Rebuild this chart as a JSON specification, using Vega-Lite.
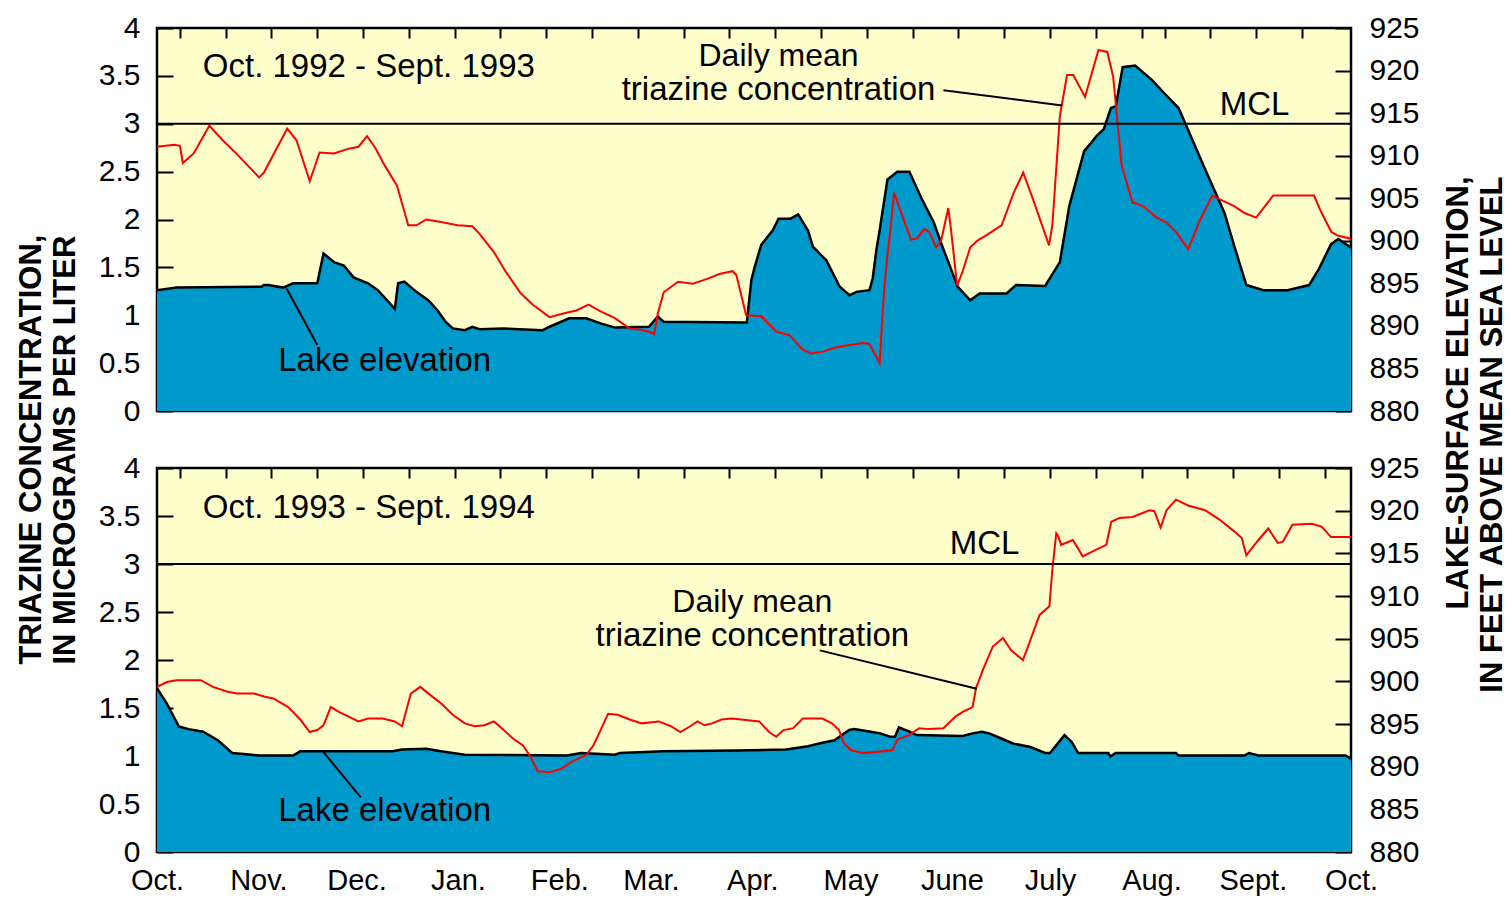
{
  "$schema": "https://vega.github.io/schema/vega-lite/v6.json",
  "bounds": "flush",
  "spacing": 57,
  "padding": {"left": 13, "top": 11, "right": 0, "bottom": 0},
  "background": "white",
  "config": {
    "view": {"fill": "#ffffcc", "stroke": "black", "strokeWidth": 2.5},
    "font": "Liberation Sans",
    "axis": {"labelFont": "Liberation Sans", "labelColor": "black", "tickColor": "black", "domain": false, "grid": false, "labelFlush": false, "labelOverlap": false, "labelBound": false, "titleColor": "black", "titleFont": "Liberation Sans", "zindex": 1}
  },
  "datasets": {
    "c1": [
      {"day":0,"conc":2.76},{"day":5.3,"conc":2.78},{"day":7,"conc":2.77},{"day":7.9,"conc":2.59},{"day":11.2,"conc":2.69},{"day":16,"conc":2.98},{"day":20,"conc":2.83},{"day":24.5,"conc":2.68},{"day":31.2,"conc":2.44},{"day":32.7,"conc":2.49},{"day":39.8,"conc":2.95},{"day":42.6,"conc":2.83},{"day":46.7,"conc":2.40},{"day":49.7,"conc":2.70},{"day":54.1,"conc":2.69},{"day":58.6,"conc":2.74},{"day":61.6,"conc":2.76},{"day":64.2,"conc":2.87},{"day":66.7,"conc":2.75},{"day":69.7,"conc":2.56},{"day":73.4,"conc":2.35},{"day":76.8,"conc":1.94},{"day":79.3,"conc":1.94},{"day":82.3,"conc":2.0},{"day":86,"conc":1.98},{"day":91.9,"conc":1.94},{"day":96.4,"conc":1.93},{"day":98.6,"conc":1.85},{"day":103,"conc":1.66},{"day":106.7,"conc":1.45},{"day":111.2,"conc":1.23},{"day":114.9,"conc":1.11},{"day":120,"conc":0.98},{"day":124.5,"conc":1.02},{"day":128.2,"conc":1.05},{"day":131.9,"conc":1.11},{"day":135.6,"conc":1.04},{"day":140,"conc":0.97},{"day":144.5,"conc":0.86},{"day":147.5,"conc":0.85},{"day":151.2,"conc":0.82},{"day":152,"conc":0.80},{"day":153.1,"conc":1.02},{"day":154.9,"conc":1.24},{"day":159.3,"conc":1.35},{"day":163.8,"conc":1.33},{"day":168.2,"conc":1.38},{"day":171.9,"conc":1.43},{"day":176,"conc":1.46},{"day":177.1,"conc":1.42},{"day":180.1,"conc":1.0},{"day":184.7,"conc":0.99},{"day":189.3,"conc":0.83},{"day":193.4,"conc":0.79},{"day":197.4,"conc":0.64},{"day":200,"conc":0.60},{"day":203.6,"conc":0.62},{"day":207.1,"conc":0.66},{"day":211.7,"conc":0.69},{"day":215.8,"conc":0.71},{"day":217.8,"conc":0.70},{"day":220.9,"conc":0.50},{"day":221.7,"conc":0.95},{"day":222.4,"conc":1.31},{"day":223.4,"conc":1.66},{"day":224.2,"conc":1.89},{"day":225.3,"conc":2.28},{"day":227.8,"conc":2.04},{"day":230.5,"conc":1.79},{"day":232.3,"conc":1.80},{"day":234.5,"conc":1.90},{"day":236,"conc":1.87},{"day":238.2,"conc":1.71},{"day":239.7,"conc":1.78},{"day":241.9,"conc":2.12},{"day":242.7,"conc":1.90},{"day":244.6,"conc":1.31},{"day":246.4,"conc":1.47},{"day":248.6,"conc":1.71},{"day":250.8,"conc":1.78},{"day":253.7,"conc":1.84},{"day":258.2,"conc":1.94},{"day":261.9,"conc":2.28},{"day":264.8,"conc":2.49},{"day":267.8,"conc":2.21},{"day":272.7,"conc":1.73},{"day":273.7,"conc":1.94},{"day":276,"conc":3.08},{"day":278.2,"conc":3.51},{"day":280.1,"conc":3.51},{"day":283.7,"conc":3.28},{"day":287.8,"conc":3.77},{"day":290.5,"conc":3.75},{"day":292.3,"conc":3.49},{"day":294.9,"conc":2.56},{"day":298.2,"conc":2.18},{"day":301.4,"conc":2.14},{"day":305.6,"conc":2.02},{"day":308.5,"conc":1.97},{"day":311.5,"conc":1.87},{"day":315.2,"conc":1.69},{"day":318.9,"conc":2.0},{"day":322.6,"conc":2.25},{"day":324.9,"conc":2.21},{"day":329.3,"conc":2.14},{"day":332.3,"conc":2.07},{"day":336,"conc":2.02},{"day":341.2,"conc":2.25},{"day":347.1,"conc":2.25},{"day":353.7,"conc":2.25},{"day":356,"conc":2.07},{"day":359,"conc":1.87},{"day":361.1,"conc":1.83},{"day":365,"conc":1.80}
    ],
    "e1": [
      {"day":0,"elev":894.2},{"day":6,"elev":894.5},{"day":31.9,"elev":894.6},{"day":32.7,"elev":894.8},{"day":34,"elev":894.8},{"day":38.6,"elev":894.5},{"day":41.6,"elev":895.0},{"day":49,"elev":895.0},{"day":50.9,"elev":898.5},{"day":54.1,"elev":897.5},{"day":57.1,"elev":897.1},{"day":60.1,"elev":895.7},{"day":64.5,"elev":895.0},{"day":67.5,"elev":894.2},{"day":72.7,"elev":892.0},{"day":73.7,"elev":895.0},{"day":75.6,"elev":895.2},{"day":79.3,"elev":894.0},{"day":83,"elev":893.0},{"day":86,"elev":891.7},{"day":88.2,"elev":890.5},{"day":90.4,"elev":889.7},{"day":94.1,"elev":889.5},{"day":96.4,"elev":889.9},{"day":98.6,"elev":889.6},{"day":106,"elev":889.7},{"day":117.9,"elev":889.5},{"day":120,"elev":889.9},{"day":126,"elev":890.9},{"day":131.2,"elev":890.9},{"day":135.6,"elev":890.3},{"day":140,"elev":889.8},{"day":150.4,"elev":889.9},{"day":153.1,"elev":891.1},{"day":154.9,"elev":890.5},{"day":180.3,"elev":890.4},{"day":181.7,"elev":895.4},{"day":182.7,"elev":896.9},{"day":184.7,"elev":899.5},{"day":186.3,"elev":900.3},{"day":188.2,"elev":901.2},{"day":190,"elev":902.6},{"day":193.7,"elev":902.6},{"day":196,"elev":903.1},{"day":199,"elev":901.2},{"day":200.5,"elev":899.3},{"day":204.6,"elev":897.7},{"day":208.7,"elev":894.6},{"day":211.7,"elev":893.6},{"day":213.8,"elev":894.0},{"day":217.8,"elev":894.2},{"day":218.8,"elev":895.6},{"day":219.9,"elev":898.9},{"day":220.9,"elev":901.2},{"day":223.3,"elev":907.2},{"day":226.3,"elev":908.1},{"day":230,"elev":908.1},{"day":233.8,"elev":904.9},{"day":237.4,"elev":902.2},{"day":240.4,"elev":899.0},{"day":244.8,"elev":894.6},{"day":248.6,"elev":893.0},{"day":251.5,"elev":893.8},{"day":259.7,"elev":893.8},{"day":262.6,"elev":894.8},{"day":271.5,"elev":894.7},{"day":276,"elev":897.5},{"day":278.9,"elev":904.1},{"day":283.4,"elev":910.5},{"day":287.2,"elev":912.3},{"day":289.4,"elev":913.1},{"day":291.6,"elev":915.6},{"day":293.1,"elev":915.8},{"day":295.2,"elev":920.4},{"day":299,"elev":920.6},{"day":304.1,"elev":918.9},{"day":308.5,"elev":917.1},{"day":312.3,"elev":915.6},{"day":316,"elev":912.3},{"day":320.4,"elev":908.4},{"day":326.3,"elev":903.3},{"day":329.3,"elev":899.4},{"day":333,"elev":894.8},{"day":338.2,"elev":894.2},{"day":345.6,"elev":894.2},{"day":352.2,"elev":894.8},{"day":355.2,"elev":896.7},{"day":358.9,"elev":899.6},{"day":361.1,"elev":900.2},{"day":365,"elev":899.2}
    ],
    "c2": [
      {"day":0,"conc":1.72},{"day":3,"conc":1.77},{"day":6,"conc":1.79},{"day":13.4,"conc":1.79},{"day":17.1,"conc":1.72},{"day":21.6,"conc":1.67},{"day":24.5,"conc":1.65},{"day":29.7,"conc":1.65},{"day":32.7,"conc":1.62},{"day":35.6,"conc":1.60},{"day":40.1,"conc":1.51},{"day":43.8,"conc":1.38},{"day":46.7,"conc":1.25},{"day":49,"conc":1.27},{"day":50.9,"conc":1.32},{"day":53.1,"conc":1.51},{"day":55.6,"conc":1.46},{"day":58.6,"conc":1.41},{"day":61.6,"conc":1.36},{"day":64.5,"conc":1.39},{"day":69,"conc":1.39},{"day":72.7,"conc":1.36},{"day":74.9,"conc":1.31},{"day":77.6,"conc":1.65},{"day":80.5,"conc":1.72},{"day":83,"conc":1.65},{"day":86.8,"conc":1.55},{"day":90.4,"conc":1.43},{"day":94.1,"conc":1.34},{"day":97.1,"conc":1.31},{"day":100.1,"conc":1.32},{"day":103,"conc":1.36},{"day":106,"conc":1.27},{"day":108.9,"conc":1.18},{"day":111.9,"conc":1.11},{"day":114.2,"conc":0.99},{"day":116.4,"conc":0.84},{"day":120.1,"conc":0.83},{"day":123.8,"conc":0.87},{"day":126.7,"conc":0.94},{"day":131.2,"conc":1.01},{"day":133.4,"conc":1.11},{"day":135.6,"conc":1.27},{"day":137.9,"conc":1.44},{"day":140.8,"conc":1.43},{"day":144.5,"conc":1.38},{"day":148.2,"conc":1.34},{"day":153.4,"conc":1.36},{"day":157.1,"conc":1.31},{"day":160,"conc":1.25},{"day":163,"conc":1.31},{"day":165.2,"conc":1.36},{"day":167.4,"conc":1.32},{"day":169.7,"conc":1.34},{"day":172.6,"conc":1.38},{"day":175.6,"conc":1.39},{"day":178.6,"conc":1.38},{"day":184.1,"conc":1.36},{"day":187.1,"conc":1.25},{"day":189.3,"conc":1.20},{"day":191.5,"conc":1.27},{"day":194.5,"conc":1.29},{"day":197.4,"conc":1.39},{"day":203.4,"conc":1.39},{"day":206.3,"conc":1.34},{"day":208.5,"conc":1.27},{"day":210,"conc":1.13},{"day":212.2,"conc":1.06},{"day":216,"conc":1.03},{"day":224.8,"conc":1.06},{"day":226.3,"conc":1.17},{"day":230,"conc":1.22},{"day":233,"conc":1.29},{"day":235.9,"conc":1.28},{"day":240.4,"conc":1.29},{"day":244.1,"conc":1.41},{"day":246.3,"conc":1.46},{"day":249.3,"conc":1.51},{"day":250.4,"conc":1.71},{"day":252.5,"conc":1.90},{"day":255.5,"conc":2.14},{"day":258.6,"conc":2.23},{"day":261.1,"conc":2.10},{"day":264.7,"conc":2.0},{"day":267,"conc":2.21},{"day":269.8,"conc":2.47},{"day":272.8,"conc":2.56},{"day":273.7,"conc":2.94},{"day":274.9,"conc":3.32},{"day":275.4,"conc":3.30},{"day":276.4,"conc":3.20},{"day":280,"conc":3.25},{"day":283,"conc":3.08},{"day":287.1,"conc":3.15},{"day":290.2,"conc":3.20},{"day":291.7,"conc":3.44},{"day":294.2,"conc":3.48},{"day":298.2,"conc":3.49},{"day":303.4,"conc":3.56},{"day":304.9,"conc":3.55},{"day":306.8,"conc":3.38},{"day":308.6,"conc":3.56},{"day":311.5,"conc":3.67},{"day":315.2,"conc":3.61},{"day":320.4,"conc":3.56},{"day":324.9,"conc":3.46},{"day":329.3,"conc":3.34},{"day":331.6,"conc":3.27},{"day":333,"conc":3.09},{"day":336.7,"conc":3.25},{"day":339.7,"conc":3.37},{"day":342.6,"conc":3.22},{"day":344.1,"conc":3.23},{"day":347.1,"conc":3.41},{"day":353,"conc":3.42},{"day":356,"conc":3.39},{"day":358.9,"conc":3.28},{"day":365,"conc":3.28}
    ],
    "e2": [
      {"day":0,"elev":899.2},{"day":3,"elev":897.4},{"day":6.7,"elev":894.7},{"day":9.7,"elev":894.4},{"day":14.1,"elev":894.1},{"day":18.6,"elev":893.1},{"day":23,"elev":891.6},{"day":29,"elev":891.4},{"day":31.2,"elev":891.3},{"day":41.6,"elev":891.3},{"day":43.8,"elev":891.8},{"day":72,"elev":891.8},{"day":74.9,"elev":892.0},{"day":82.3,"elev":892.1},{"day":86.8,"elev":891.8},{"day":94.1,"elev":891.4},{"day":125.3,"elev":891.3},{"day":129.7,"elev":891.6},{"day":140,"elev":891.4},{"day":141.5,"elev":891.6},{"day":154.9,"elev":891.8},{"day":177.1,"elev":891.9},{"day":192.3,"elev":892.0},{"day":199,"elev":892.4},{"day":203.4,"elev":892.8},{"day":207.1,"elev":893.1},{"day":211.6,"elev":894.3},{"day":213.1,"elev":894.4},{"day":218.2,"elev":894.1},{"day":221.1,"elev":893.9},{"day":224.1,"elev":893.5},{"day":225.6,"elev":893.5},{"day":226.8,"elev":894.6},{"day":230,"elev":894.1},{"day":232.3,"elev":893.7},{"day":246.3,"elev":893.6},{"day":249.3,"elev":893.9},{"day":252.2,"elev":894.1},{"day":254.4,"elev":893.9},{"day":258.1,"elev":893.3},{"day":261.8,"elev":892.7},{"day":267,"elev":892.3},{"day":271.5,"elev":891.6},{"day":273,"elev":891.6},{"day":277.4,"elev":893.7},{"day":279.6,"elev":892.9},{"day":281.6,"elev":891.6},{"day":290.8,"elev":891.6},{"day":291.5,"elev":891.2},{"day":293,"elev":891.6},{"day":311.5,"elev":891.6},{"day":312.3,"elev":891.3},{"day":332.4,"elev":891.3},{"day":333.8,"elev":891.6},{"day":336.7,"elev":891.3},{"day":363.4,"elev":891.3},{"day":365,"elev":890.9}
    ]
  },
  "vconcat": [
    {
      "width": 1194,
      "height": 383,
      "resolve": {"scale": {"y": "independent"}, "axis": {"x": "independent", "y": "independent"}},
      "layer": [
        {
          "data": {"name": "e1"},
          "encoding": {
            "x": {"field": "day", "type": "quantitative", "scale": {"domain": [0, 365], "nice": false, "zero": false},
              "axis": {"orient": "bottom", "values": [7,14,21,28,35,42,49,56,63,70,77,84,91,98,105,112,119,126,133,140,147,154,161,168,175,182,189,196,203,210,217,224,231,238,245,252,259,266,273,280,287,294,301,308,315,322,329,336,343,350,357], "labels": false, "tickSize": -10, "tickWidth": 2, "title": null}},
            "y": {"field": "elev", "type": "quantitative", "scale": {"domain": [880, 925], "nice": false, "zero": false},
              "axis": {"orient": "right", "values": [880,885,890,895,900,905,910,915,920,925], "format": "d", "tickSize": -16, "tickWidth": 2, "labelFontSize": 30, "labelPadding": 34, "labelBaseline": "middle",
                "title": ["LAKE-SURFACE ELEVATION,", "IN FEET ABOVE MEAN SEA LEVEL"], "titleAngle": 270, "titleAlign": "right", "titleBaseline": "top", "titleX": 92, "titleY": 148, "titleFontSize": 31, "titleFontWeight": "bold", "titleLineHeight": 34}}
          },
          "layer": [
            {"mark": {"type": "area", "color": "#0099cc", "opacity": 1, "clip": true}},
            {"mark": {"type": "line", "color": "black", "strokeWidth": 2.5, "clip": true}}
          ]
        },
        {
          "layer": [
            {
              "data": {"name": "c1"},
              "mark": {"type": "line", "color": "#ff0000", "strokeWidth": 2, "clip": true},
              "encoding": {
                "x": {"field": "day", "type": "quantitative", "scale": {"domain": [0, 365], "nice": false, "zero": false},
                  "axis": {"orient": "top", "values": [7,14,21,28,35,42,49,56,63,70,77,84,91,98,105,112,119,126,133,140,147,154,161,168,175,182,189,196,203,210,217,224,231,238,245,252,259,266,273,280,287,294,301,304,308,315,322,329,336,343,350,357], "labels": false, "tickSize": -10, "tickWidth": 2, "title": null}},
                "y": {"field": "conc", "type": "quantitative", "scale": {"domain": [0, 4], "nice": false, "zero": false},
                  "axis": {"orient": "left", "values": [0,0.5,1,1.5,2,2.5,3,3.5,4], "format": "~g", "tickSize": -16, "tickWidth": 2, "labelFontSize": 30, "labelPadding": 33, "labelBaseline": "middle",
                    "title": ["TRIAZINE CONCENTRATION,", "IN MICROGRAMS PER LITER"], "titleAngle": 270, "titleAlign": "left", "titleBaseline": "top", "titleX": -141, "titleY": 636, "titleFontSize": 31, "titleFontWeight": "bold", "titleLineHeight": 34}}
              }
            },
            {
              "data": {"values": [{}]},
              "mark": {"type": "rule", "color": "black", "strokeWidth": 2},
              "encoding": {"y": {"datum": 3, "type": "quantitative"}}
            },
            {
              "data": {"values": [{}]},
              "mark": {"type": "text", "align": "left", "baseline": "middle", "fontSize": 33, "color": "black"},
              "encoding": {"x": {"datum": 14, "type": "quantitative"}, "y": {"datum": 3.59, "type": "quantitative"}, "text": {"value": "Oct. 1992 - Sept. 1993"}}
            },
            {
              "data": {"values": [{}]},
              "mark": {"type": "text", "align": "center", "baseline": "middle", "fontSize": 32, "color": "black"},
              "encoding": {"x": {"datum": 190, "type": "quantitative"}, "y": {"datum": 3.71, "type": "quantitative"}, "text": {"value": "Daily mean"}}
            },
            {
              "data": {"values": [{}]},
              "mark": {"type": "text", "align": "center", "baseline": "middle", "fontSize": 33, "color": "black"},
              "encoding": {"x": {"datum": 190, "type": "quantitative"}, "y": {"datum": 3.35, "type": "quantitative"}, "text": {"value": "triazine concentration"}}
            },
            {
              "data": {"values": [{}]},
              "mark": {"type": "text", "align": "center", "baseline": "middle", "fontSize": 33, "color": "black"},
              "encoding": {"x": {"datum": 335.5, "type": "quantitative"}, "y": {"datum": 3.20, "type": "quantitative"}, "text": {"value": "MCL"}}
            },
            {
              "data": {"values": [{}]},
              "mark": {"type": "text", "align": "center", "baseline": "middle", "fontSize": 33, "color": "black"},
              "encoding": {"x": {"datum": 69.6, "type": "quantitative"}, "y": {"datum": 0.52, "type": "quantitative"}, "text": {"value": "Lake elevation"}}
            },
            {
              "data": {"values": [{}]},
              "mark": {"type": "rule", "color": "black", "strokeWidth": 2},
              "encoding": {"x": {"datum": 240.4, "type": "quantitative"}, "y": {"datum": 3.35, "type": "quantitative"}, "x2": {"datum": 276.7}, "y2": {"datum": 3.19}}
            },
            {
              "data": {"values": [{}]},
              "mark": {"type": "rule", "color": "black", "strokeWidth": 2},
              "encoding": {"x": {"datum": 39.6, "type": "quantitative"}, "y": {"datum": 1.28, "type": "quantitative"}, "x2": {"datum": 49}, "y2": {"datum": 0.69}}
            }
          ]
        }
      ]
    },
    {
      "width": 1194,
      "height": 384,
      "resolve": {"scale": {"y": "independent"}, "axis": {"x": "independent", "y": "independent"}},
      "layer": [
        {
          "data": {"name": "e2"},
          "encoding": {
            "x": {"field": "day", "type": "quantitative", "scale": {"domain": [0, 365], "nice": false, "zero": false},
              "axis": {"orient": "bottom", "values": [7,14,21,28,35,42,49,56,63,70,77,84,91,98,105,112,119,126,133,140,147,154,161,168,175,182,189,196,203,210,217,224,231,238,245,252,259,266,273,280,287,294,301,308,315,322,329,336,343,350,357], "labels": false, "tickSize": -10, "tickWidth": 2, "title": null}},
            "y": {"field": "elev", "type": "quantitative", "scale": {"domain": [880, 925], "nice": false, "zero": false},
              "axis": {"orient": "right", "values": [880,885,890,895,900,905,910,915,920,925], "format": "d", "tickSize": -16, "tickWidth": 2, "labelFontSize": 30, "labelPadding": 34, "labelBaseline": "middle", "title": null}}
          },
          "layer": [
            {"mark": {"type": "area", "color": "#0099cc", "opacity": 1, "clip": true}},
            {"mark": {"type": "line", "color": "black", "strokeWidth": 2.5, "clip": true}}
          ]
        },
        {
          "layer": [
            {
              "data": {"name": "c2"},
              "mark": {"type": "line", "color": "#ff0000", "strokeWidth": 2, "clip": true},
              "encoding": {
                "x": {"field": "day", "type": "quantitative", "scale": {"domain": [0, 365], "nice": false, "zero": false},
                  "axis": {"orient": "top", "values": [7,14,21,28,35,42,49,56,63,70,77,84,91,98,105,112,119,126,133,140,147,154,161,168,175,182,189,196,203,210,217,224,231,238,245,252,259,266,273,280,287,294,301,308,315,322,329,336,343,350,357], "labels": false, "tickSize": -10, "tickWidth": 2, "title": null}},
                "y": {"field": "conc", "type": "quantitative", "scale": {"domain": [0, 4], "nice": false, "zero": false},
                  "axis": {"orient": "left", "values": [0,0.5,1,1.5,2,2.5,3,3.5,4], "format": "~g", "tickSize": -16, "tickWidth": 2, "labelFontSize": 30, "labelPadding": 33, "labelBaseline": "middle", "title": null}}
              }
            },
            {
              "data": {"values": [{}]},
              "mark": {"type": "rule", "color": "black", "strokeWidth": 2},
              "encoding": {"y": {"datum": 3, "type": "quantitative"}}
            },
            {
              "data": {"values": [{}]},
              "mark": {"type": "text", "align": "left", "baseline": "middle", "fontSize": 33, "color": "black"},
              "encoding": {"x": {"datum": 14, "type": "quantitative"}, "y": {"datum": 3.58, "type": "quantitative"}, "text": {"value": "Oct. 1993 - Sept. 1994"}}
            },
            {
              "data": {"values": [{}]},
              "mark": {"type": "text", "align": "center", "baseline": "middle", "fontSize": 32, "color": "black"},
              "encoding": {"x": {"datum": 182, "type": "quantitative"}, "y": {"datum": 2.60, "type": "quantitative"}, "text": {"value": "Daily mean"}}
            },
            {
              "data": {"values": [{}]},
              "mark": {"type": "text", "align": "center", "baseline": "middle", "fontSize": 33, "color": "black"},
              "encoding": {"x": {"datum": 182, "type": "quantitative"}, "y": {"datum": 2.25, "type": "quantitative"}, "text": {"value": "triazine concentration"}}
            },
            {
              "data": {"values": [{}]},
              "mark": {"type": "text", "align": "center", "baseline": "middle", "fontSize": 33, "color": "black"},
              "encoding": {"x": {"datum": 253, "type": "quantitative"}, "y": {"datum": 3.21, "type": "quantitative"}, "text": {"value": "MCL"}}
            },
            {
              "data": {"values": [{}]},
              "mark": {"type": "text", "align": "center", "baseline": "middle", "fontSize": 33, "color": "black"},
              "encoding": {"x": {"datum": 69.6, "type": "quantitative"}, "y": {"datum": 0.43, "type": "quantitative"}, "text": {"value": "Lake elevation"}}
            },
            {
              "data": {"values": [{}]},
              "mark": {"type": "rule", "color": "black", "strokeWidth": 2},
              "encoding": {"x": {"datum": 202.6, "type": "quantitative"}, "y": {"datum": 2.10, "type": "quantitative"}, "x2": {"datum": 250.6}, "y2": {"datum": 1.70}}
            },
            {
              "data": {"values": [{}]},
              "mark": {"type": "rule", "color": "black", "strokeWidth": 2},
              "encoding": {"x": {"datum": 50.9, "type": "quantitative"}, "y": {"datum": 1.04, "type": "quantitative"}, "x2": {"datum": 62.3}, "y2": {"datum": 0.57}}
            }
          ]
        },
        {
          "data": {"values": [{}]},
          "mark": {"type": "point", "opacity": 0},
          "encoding": {
            "x": {"datum": 0, "type": "quantitative",
              "axis": {"orient": "bottom", "values": [0,31,61,92,123,151,182,212,243,273,304,335,365], "ticks": false, "labelFontSize": 29, "labelPadding": 14, "labelAlign": "center", "title": null,
                "labelExpr": "['Oct.','Nov.','Dec.','Jan.','Feb.','Mar.','Apr.','May','June','July','Aug.','Sept.','Oct.'][indexof([0,31,61,92,123,151,182,212,243,273,304,335,365], datum.value)]"}}
          }
        }
      ]
    }
  ]
}
